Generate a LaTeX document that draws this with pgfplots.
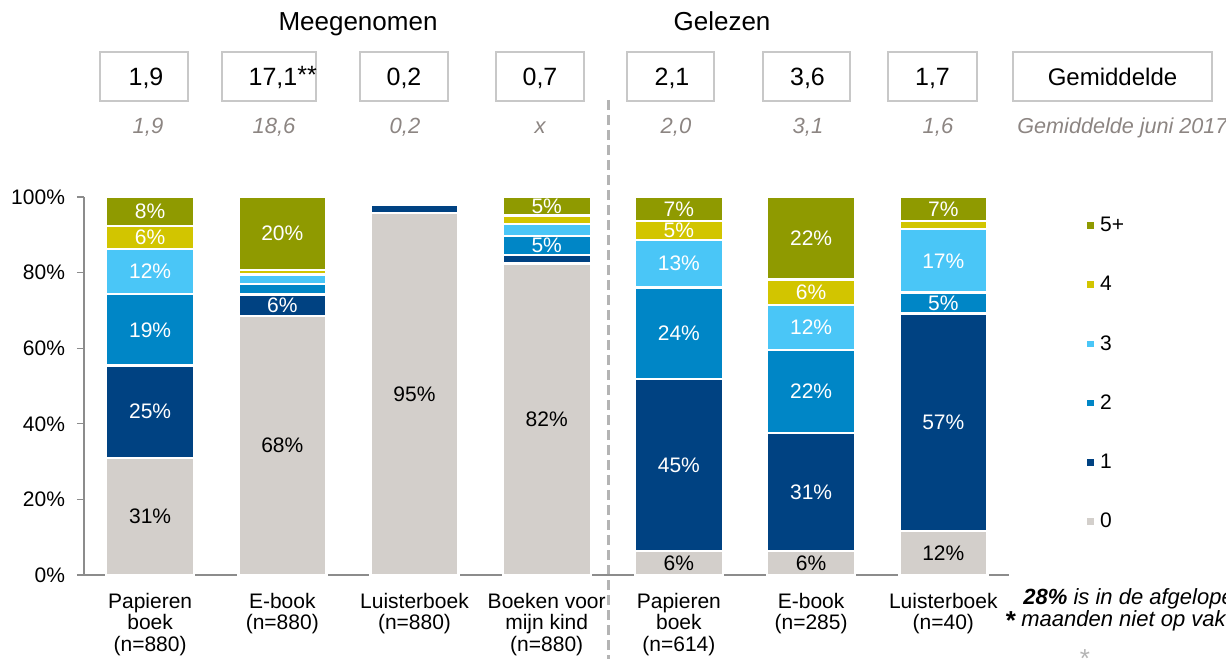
\documentclass[border=0pt]{standalone}
\usepackage{pgfplots}
\pgfplotsset{compat=1.18}
\usepackage{fontspec}
\setmainfont{Liberation Sans}
\definecolor{c0}{HTML}{D3CFCB}
\definecolor{c1}{HTML}{004282}
\definecolor{c2}{HTML}{0086C6}
\definecolor{c3}{HTML}{4AC6F7}
\definecolor{c4}{HTML}{D2C500}
\definecolor{c5}{HTML}{8F9A00}
\definecolor{boxgray}{HTML}{C8C8C8}
\definecolor{itgray}{HTML}{8C8582}
\definecolor{dashgray}{HTML}{B4B4B4}
\definecolor{axgray}{HTML}{8C8C8C}
\begin{document}
\begin{tikzpicture}[x=0.5pt,y=0.5pt]
\useasboundingbox (0,0) rectangle (1226,659);
% headers
\node[font=\fontsize{13}{15}\selectfont, anchor=base] at (358,628) {Meegenomen};
\node[font=\fontsize{13}{15}\selectfont, anchor=base] at (722,628) {Gelezen};
% boxes
\foreach \l/\r in {100/188,222/316,360/448,496/584,627/714,763/850,888/977,1013/1212}
  \draw[boxgray, line width=1pt] (\l,607) rectangle (\r,558);
\foreach \c/\t in {146/{1,9},404/{0,2},540/{0,7},672/{2,1},807.5/{3,6},932.5/{1,7}}
  \node[font=\fontsize{12.5}{14}\selectfont, anchor=base] at (\c,573) {\t};
\node[font=\fontsize{12.5}{14}\selectfont, anchor=base] at (273,573) {17,1\rlap{\raisebox{1pt}{**}}};
\node[font=\fontsize{12}{14}\selectfont, anchor=base] at (1112.5,573) {Gemiddelde};
% previous averages
\foreach \c/\t in {148/{1,9},274/{18,6},405/{0,2},540/{x},676/{2,0},808/{3,1},938/{1,6}}
  \node[font=\fontsize{11}{13}\selectfont\itshape, text=itgray, anchor=base] at (\c,525) {\t};
\node[font=\fontsize{10.8}{13}\selectfont\itshape, text=itgray, anchor=base west, inner sep=0pt] at (1017,525) {Gemiddelde juni 2017};
% separator
\draw[dashgray, line width=1.5pt, dash pattern=on 5pt off 2.5pt] (608,559) -- (608,0);
\begin{axis}[
  at={(42pt,42pt)}, anchor=south west,
  scale only axis, width=462.7pt, height=189pt,
  ybar stacked, bar width=44pt,
  xmin=-0.5, xmax=6.5, ymin=0, ymax=100,
  xtick={0,1,2,3,4,5,6},
  xticklabels={{Papieren\\boek\\(n=880)},{E-book\\(n=880)},{Luisterboek\\(n=880)},{Boeken voor\\mijn kind\\(n=880)},{Papieren\\boek\\(n=614)},{E-book\\(n=285)},{Luisterboek\\(n=40)}},
  xticklabel style={align=center, font=\fontsize{10.5}{10.8}\selectfont, yshift=-2pt},
  ytick={0,20,40,60,80,100},
  yticklabel={\pgfmathprintnumber{\tick}\%},
  yticklabel style={font=\fontsize{10.5}{12}\selectfont, xshift=-2.5pt},
  /pgf/number format/assume math mode=true,
  axis x line*=bottom, axis y line*=left,
  axis line style={draw=axgray, line width=0.6pt},
  tick align=outside, major tick length=3.5pt,
  xtick style={draw=none},
  ytick style={draw=axgray, line width=0.6pt},
  legend style={draw=none, fill=none, at={(1,1)}, anchor=north west, xshift=34.5pt, yshift=-6pt,
    font=\fontsize{10.5}{12}\selectfont, row sep=16.8pt, column sep=0pt},
  legend cell align=left,
  reverse legend,
  legend image code/.code={\fill[#1] (0pt,-2pt) rectangle (4.5pt,2.5pt);},
  every axis plot/.append style={draw=white, line width=1.2pt},
]
\addplot[fill=c0] coordinates {(0,31) (1,68.5) (2,95.8) (3,82.4) (4,6.3) (5,6.3) (6,11.6)};
\addplot[fill=c1] coordinates {(0,24.4) (1,5.7) (2,2.1) (3,2.3) (4,45.6) (5,31.2) (6,57.6)};
\addplot[fill=c2] coordinates {(0,18.9) (1,2.8) (2,0) (3,5.0) (4,24.2) (5,22.0) (6,5.5)};
\addplot[fill=c3] coordinates {(0,11.9) (1,2.5) (2,0) (3,3.2) (4,12.5) (5,11.9) (6,16.8)};
\addplot[fill=c4] coordinates {(0,6.1) (1,1.2) (2,0) (3,2.2) (4,5.1) (5,6.8) (6,2.2)};
\addplot[fill=c5] coordinates {(0,7.7) (1,19.3) (2,0) (3,4.9) (4,6.3) (5,21.8) (6,6.3)};
\legend{0,1,2,3,4,5+}
\end{axis}
\begin{axis}[
  at={(42pt,42pt)}, anchor=south west,
  scale only axis, width=462.7pt, height=189pt,
  xmin=-0.5, xmax=6.5, ymin=0, ymax=100,
  hide axis,
]
\addplot[only marks, mark=*, mark size=0pt, mark options={draw opacity=0, fill opacity=0}, nodes near coords, point meta=explicit symbolic,
  nodes near coords align=center,
  every node near coord/.style={font=\fontsize{10.5}{12}\selectfont, text=white, anchor=center, text opacity=1}]
  table[meta=lab] {
x y lab
0 43.2 25\%
0 64.85 19\%
0 80.25 12\%
0 89.25 6\%
0 96.15 8\%
1 71.35 6\%
1 90.35 20\%
3 87.2 5\%
3 97.55 5\%
4 29.1 45\%
4 64.0 24\%
4 82.35 13\%
4 91.15 5\%
4 96.85 7\%
5 21.9 31\%
5 48.5 22\%
5 65.45 12\%
5 74.8 6\%
5 89.1 22\%
6 40.4 57\%
6 71.95 5\%
6 83.1 17\%
6 96.85 7\%
};
\addplot[only marks, mark=*, mark size=0pt, mark options={draw opacity=0, fill opacity=0}, nodes near coords, point meta=explicit symbolic,
  nodes near coords align=center,
  every node near coord/.style={font=\fontsize{10.5}{12}\selectfont, text=black, anchor=center, text opacity=1}]
  table[meta=lab] {
x y lab
0 15.5 31\%
1 34.25 68\%
2 47.9 95\%
3 41.2 82\%
4 3.15 6\%
5 3.15 6\%
6 5.8 12\%
};
\end{axis}
% note
\node[font=\fontsize{13}{15}\selectfont\bfseries, anchor=base] at (1011,30) {*};
\node[font=\fontsize{11}{13}\selectfont\itshape, anchor=base west, inner sep=0pt] at (1023,55) {\textbf{28\%} is in de afgelopen 12};
\node[font=\fontsize{11}{13}\selectfont\itshape, anchor=base west, inner sep=0pt] at (1021,33) {maanden niet op vakantie geweest};
\node[font=\fontsize{13}{15}\selectfont, text=dashgray, anchor=base] at (1085,-8) {*};
\end{tikzpicture}
\end{document}
